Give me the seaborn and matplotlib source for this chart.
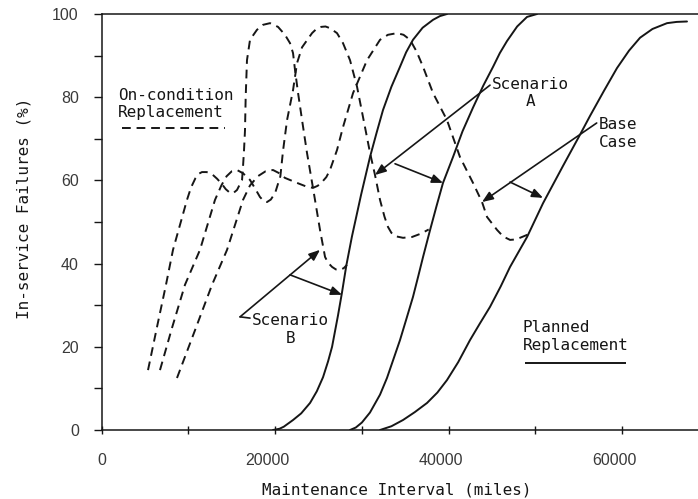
import matplotlib
matplotlib.use("Agg")
import matplotlib.pyplot as plt
import matplotlib.transforms as mtransforms
import seaborn as sns

# ---------------- data (miles, % in-service failures) ----------------
# Planned replacement (solid S-curves)
planned_b_x = [19750, 20500, 21000, 22060, 23000, 24020, 24800, 25520, 26100, 26560,
               27240, 27700, 28200, 28850, 29900, 30930, 31700, 32430, 33400, 34390,
               35100, 35890, 37000, 38200, 39000, 39810]
planned_b_y = [0, 0.3, 0.8, 2.4, 4.0, 6.5, 9.3, 12.7, 16.5, 20,
               27.5, 33, 39.5, 46.5, 56.5, 65.6, 71.5, 76.9, 82.5, 87.3,
               90.8, 93.8, 96.7, 98.6, 99.5, 100]

planned_a_x = [28630, 29300, 30000, 30930, 32090, 32890, 33600, 34390, 35100, 35890,
               36500, 37050, 37850, 38600, 39350, 40500, 41600, 42810, 44000, 45120,
               45900, 46730, 47900, 49040, 50190]
planned_a_y = [0, 0.6, 1.8, 4.2, 8.5, 12.5, 16.8, 21.6, 26.5, 32,
               37, 41.6, 48, 53.8, 59.4, 65.6, 71.8, 77.5, 82.8, 87.3,
               90.6, 93.5, 97, 99.3, 100]

planned_base_x = [32090, 33400, 34740, 36100, 37510, 38700, 39810, 41100, 42460, 43600,
                  44770, 46000, 47080, 49040, 50880, 53190, 55150, 56300, 57900, 59410,
                  60800, 62070, 63500, 65180, 66300, 67480]
planned_base_y = [0, 0.9, 2.4, 4.3, 6.5, 9, 12, 16.3, 21.6, 25.6,
                  29.6, 34.5, 39.2, 46.4, 54.5, 63.5, 71, 75.5, 81.5, 87,
                  91.2, 94.3, 96.4, 97.8, 98.1, 98.2]

# On-condition replacement (dashed curves)
oncond_b_x = [5340, 6400, 7410, 8220, 9830, 10300, 10800, 11200, 11560, 12100,
              12720, 13300, 13870, 14300, 14790, 15200, 15600, 16180, 16290, 16410,
              16520, 16600, 16750, 17100, 17900, 18600, 19410, 20330, 21130, 21710,
              22060, 22290, 22640, 23100, 23670, 24360, 25170, 25750, 26100, 26560,
              27000, 27470, 27900, 28280]
oncond_b_y = [14.4, 25, 34.9, 43.3, 55.3, 58.3, 60.5, 61.6, 62, 62,
              61.5, 60.4, 59.1, 57.9, 57, 57, 57.7, 60.1, 63.2, 67.3,
              72, 80, 88.9, 93.8, 96.2, 97.4, 97.8, 96.9, 95, 93,
              90.6, 86.5, 81, 74.5, 66.6, 58.2, 48.1, 41.6, 40.2, 39.2,
              38.6, 38.5, 38.9, 39.7]

oncond_a_x = [6720, 8100, 9600, 11330, 13060, 13800, 14400, 15000, 15600, 16300,
              17100, 17700, 18250, 18700, 19060, 19500, 20000, 20600, 20900, 21370,
              22060, 22520, 23100, 24250, 24800, 25300, 25800, 26320, 27130, 27820,
              28630, 29440, 30130, 30940, 31510, 32090, 32600, 33010, 33400, 33820,
              34740, 35780, 36800, 37700]
oncond_a_y = [14.4, 24.5, 34.9, 43.3, 55.3, 58.8, 61, 62.2, 62.5, 61.7,
              60.1, 58, 56, 55, 54.8, 55.4, 57, 61, 67, 74.5,
              81.7, 88.2, 92, 95.4, 96.5, 96.9, 97, 96.6, 95.4, 93,
              88.9, 82.5, 75.2, 66.6, 61.3, 55.3, 51.3, 48.8, 47.4, 46.6,
              46.2, 46.4, 47.2, 48.2]

oncond_base_x = [8680, 10760, 12720, 14450, 16290, 17100, 18000, 18900, 19750, 20400,
                 21130, 22520, 23500, 24360, 24900, 25400, 25900, 26320, 27130, 27820,
                 28980, 30590, 32090, 33000, 34050, 34800, 35550, 36300, 37050, 38200,
                 39810, 41310, 42810, 43850, 44430, 45580, 46300, 47080, 47700, 48230,
                 49040, 49500]
oncond_base_y = [12.5, 24, 34.9, 43.3, 55.3, 58.8, 61, 62.2, 62.5, 61.8,
                 60.6, 59.4, 58.6, 58.2, 58.7, 59.6, 60.8, 62.5, 67.3, 72.8,
                 81, 88.9, 93.8, 95, 95.4, 95, 93.8, 91, 87.3, 81,
                 74.5, 65.6, 59.4, 54.8, 51.2, 48.1, 46.5, 45.7, 45.8, 46.2,
                 46.9, 48]

x_major_ticks = [0, 20000, 40000, 60000]
x_minor_ticks = [10000, 30000, 50000]
y_major_ticks = [0, 20, 40, 60, 80, 100]
y_minor_ticks = [10, 30, 50, 70, 90]

# ---------------- style ----------------
sns.set_style("ticks")
plt.rcParams['font.family'] = ['DejaVu Sans Mono', 'DejaVu Sans']
INK = '#161616'
NUM = '#3a3a3a'
FS = 11.5
LW = 1.4
DASH = (0, (4.5, 3.0))

fig = plt.figure(figsize=(6.98, 4.99), dpi=100)
ax = fig.add_axes([101.7 / 698, 69 / 499, 596.3 / 698, 416 / 499])

for xs, ys in [(oncond_b_x, oncond_b_y), (oncond_a_x, oncond_a_y),
               (oncond_base_x, oncond_base_y)]:
    sns.lineplot(x=xs, y=ys, ax=ax, color=INK, linewidth=LW, linestyle=DASH,
                 sort=False, estimator=None)

for xs, ys in [(planned_b_x, planned_b_y), (planned_a_x, planned_a_y),
               (planned_base_x, planned_base_y)]:
    sns.lineplot(x=xs, y=ys, ax=ax, color=INK, linewidth=LW,
                 sort=False, estimator=None)

ax.set_xlim(0, 68750)
ax.set_ylim(0, 100)
ax.set_xticks(x_major_ticks)
ax.set_xticks(x_minor_ticks, minor=True)
ax.set_yticks(y_major_ticks)
ax.set_yticks(y_minor_ticks, minor=True)
ax.set_xticklabels([str(v) for v in x_major_ticks])
ax.set_yticklabels([str(v) for v in y_major_ticks])

ax.tick_params(axis='y', which='both', direction='out', length=5.5, width=1.0,
               color=INK, pad=11, labelsize=FS, labelcolor=NUM)
ax.tick_params(axis='x', which='both', direction='inout', length=6, width=1.0,
               color=INK, pad=13.5, labelsize=FS, labelcolor=NUM)
for lab in ax.get_xticklabels() + ax.get_yticklabels():
    lab.set_fontfamily('Liberation Sans')

shift = mtransforms.ScaledTranslation(-8 / 100, 0, fig.dpi_scale_trans)
for tick in ax.xaxis.get_major_ticks()[1:]:
    tick.label1.set_transform(tick.label1.get_transform() + shift)

for side in ['left', 'bottom', 'top']:
    ax.spines[side].set_linewidth(1.1)
    ax.spines[side].set_color(INK)
ax.spines['right'].set_visible(False)

ax.set_ylabel('In-service Failures (%)', fontsize=FS, color=INK, va='center')
ax.yaxis.set_label_coords(-0.13, 0.532)
ax.set_xlabel('Maintenance Interval (miles)', fontsize=FS, color=INK, va='center')
ax.xaxis.set_label_coords(0.495, -0.145)

# ---------------- annotations ----------------
txt = dict(fontsize=FS, color=INK, va='top')
ax.text(1880, 82.2, 'On-condition\nReplacement', ha='left', **txt)
ax.hlines(72.6, 2340, 14240, colors=INK, linewidth=LW, linestyles=DASH)
ax.text(48570, 26.4, 'Planned\nReplacement', ha='left', **txt)
ax.hlines(16.1, 48800, 60450, colors=INK, linewidth=LW)
ax.text(49440, 84.9, 'Scenario\nA', ha='center', multialignment='center', **txt)
ax.text(59530, 75.2, 'Base\nCase', ha='center', multialignment='center', **txt)
ax.text(21720, 28.1, 'Scenario\nB', ha='center', multialignment='center', **txt)

arrow = dict(arrowstyle='-|>,head_length=0.55,head_width=0.22', color=INK,
             lw=1.2, shrinkA=0, shrinkB=0, mutation_scale=12)

# Scenario B
ax.plot([17100, 15950], [26.9, 27.2], color=INK, lw=1.2)
ax.annotate('', xy=(25170, 43.3), xytext=(15950, 27.2), arrowprops=arrow)
ax.annotate('', xy=(27710, 32.5), xytext=(21710, 37.3), arrowprops=arrow)
# Scenario A
ax.annotate('', xy=(31510, 61.3), xytext=(44770, 82.9), arrowprops=arrow)
ax.annotate('', xy=(39350, 59.4), xytext=(33820, 64.0), arrowprops=arrow)
# Base case
ax.annotate('', xy=(43850, 54.8), xytext=(57070, 73.8), arrowprops=arrow)
ax.annotate('', xy=(50880, 55.8), xytext=(47080, 59.6), arrowprops=arrow)

fig.savefig('out.png', dpi=100)
